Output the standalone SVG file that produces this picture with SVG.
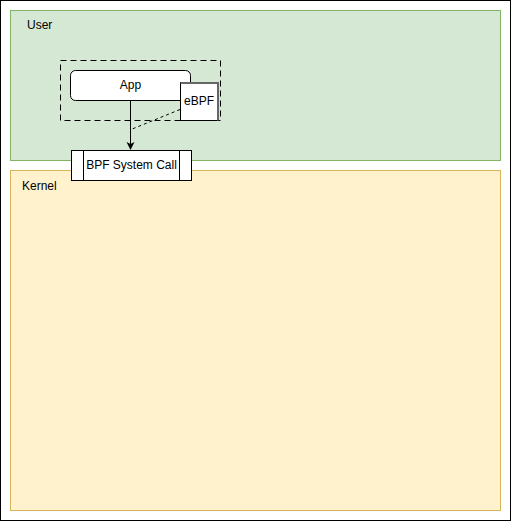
<svg xmlns="http://www.w3.org/2000/svg" width="511" height="521" viewBox="0 0 511 521">
  <style>
    text { font-family: "Liberation Sans", Arial, sans-serif; font-size: 12px; fill: #000; }
    .box { fill: #fff; stroke: #000; stroke-width: 1; }
  </style>
  <defs>
    <marker id="arrow" markerWidth="10" markerHeight="10" refX="7" refY="4" orient="auto" markerUnits="userSpaceOnUse">
      <path d="M0,0 L8,4 L0,8 L2,4 Z" fill="#000"/>
    </marker>
  </defs>
  <rect x="0" y="0" width="511" height="521" fill="#fff"/>
  <rect x="0.5" y="0.5" width="510" height="520" fill="none" stroke="#000"/>

  <g id="user">
    <rect x="10.5" y="10.5" width="490" height="150" fill="#d5e8d4" stroke="#82b366"/>
    <text x="27" y="29">User</text>
  </g>
  <g id="kernel">
    <rect x="10.5" y="170.5" width="490" height="340" fill="#fff2cc" stroke="#d6b656"/>
    <text x="22" y="190">Kernel</text>
  </g>

  <g id="process">
    <rect x="60.5" y="60.5" width="160" height="60" fill="none" stroke="#000" stroke-dasharray="6 4"/>
  </g>
  <g id="app">
    <rect class="box" x="70.5" y="70.5" width="120" height="30" rx="5"/>
    <text x="130.5" y="89" text-anchor="middle">App</text>
  </g>
  <g id="ebpf">
    <rect x="180.5" y="82.5" width="37" height="38" fill="#fff" stroke="#000"/>
    <path d="M180.5,83 H218 V120.5" fill="none" stroke="#666" stroke-width="2"/>
    <text x="199" y="105" text-anchor="middle">eBPF</text>
  </g>

  <g id="connectors">
    <line x1="130.5" y1="100.5" x2="130.5" y2="149" stroke="#000" marker-end="url(#arrow)"/>
    <line x1="180" y1="109.5" x2="131" y2="129.5" stroke="#000" stroke-dasharray="3 3"/>
  </g>

  <g id="syscall">
    <rect class="box" x="71.5" y="150.5" width="120" height="30"/>
    <line x1="83.5" y1="150.5" x2="83.5" y2="180.5" stroke="#000"/>
    <line x1="179.5" y1="150.5" x2="179.5" y2="180.5" stroke="#000"/>
    <text x="131.5" y="169" text-anchor="middle">BPF System Call</text>
  </g>
</svg>
